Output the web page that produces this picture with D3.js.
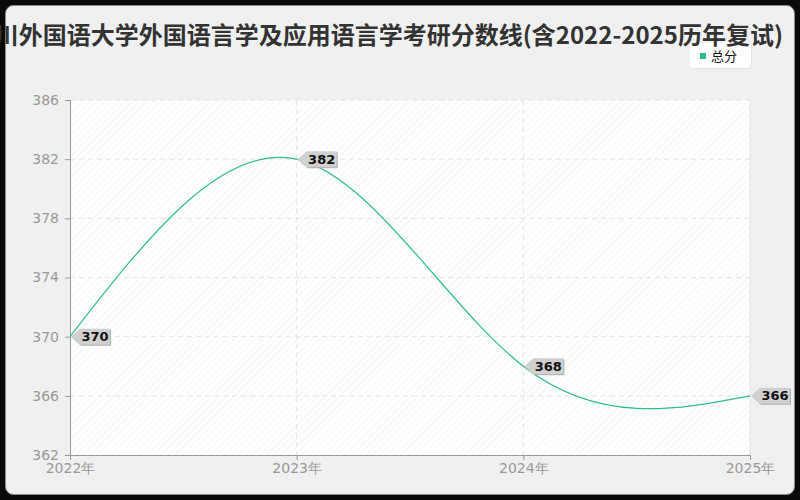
<!DOCTYPE html>
<html>
<head>
<meta charset="utf-8">
<script src="https://cdn.jsdelivr.net/npm/d3@7"></script>
<style>
  html, body { margin: 0; padding: 0; background: #000; }
  svg { display: block; }
</style>
</head>
<body>
<svg id="chart" width="800" height="500"></svg>
<script>
const titleText = "四川外国语大学外国语言学及应用语言学考研分数线(含2022-2025历年复试)";
const years = ["2022年", "2023年", "2024年", "2025年"];
const scores = [370, 382, 368, 366];
const yTicks = [362, 366, 370, 374, 378, 382, 386];
const seriesName = "总分";

const svg = d3.select("#chart");
const W = 800, H = 500;
const m = { l: 70, r: 750, t: 100, b: 455 };
const lineColor = "#2fbd8c";

// frame
svg.append("rect").attr("x", 0).attr("y", 0).attr("width", W).attr("height", H).attr("fill", "#0a0a0a");
svg.append("rect").attr("x", 5.5).attr("y", 5.5).attr("width", 789).attr("height", 489)
  .attr("rx", 8).attr("fill", "#f0f0f0").attr("stroke", "#8a8a8a").attr("stroke-width", 1);

// pattern
const defs = svg.append("defs");
const pat = defs.append("pattern").attr("id", "hatch").attr("patternUnits", "userSpaceOnUse")
  .attr("width", 5).attr("height", 5).attr("patternTransform", "rotate(45)");
pat.append("rect").attr("width", 5).attr("height", 5).attr("fill", "#ffffff");
pat.append("line").attr("x1", 0).attr("y1", 0).attr("x2", 0).attr("y2", 5)
  .attr("stroke", "#f1f1f1").attr("stroke-width", 1.5);

const x = d3.scalePoint().domain(years).range([m.l, m.r]).padding(0);
const y = d3.scaleLinear().domain([362, 386]).range([m.b, m.t]);

svg.append("rect").attr("x", m.l).attr("y", m.t).attr("width", m.r - m.l).attr("height", m.b - m.t)
  .attr("fill", "url(#hatch)");

// grid
const g = svg.append("g");
g.selectAll(".hg").data(yTicks.filter(v => v !== 362)).enter().append("line")
  .attr("x1", m.l).attr("x2", m.r).attr("y1", d => y(d)).attr("y2", d => y(d))
  .attr("stroke", "#e4e4e4").attr("stroke-dasharray", "5,4").attr("stroke-width", 1);
g.selectAll(".vg").data(years.slice(1)).enter().append("line")
  .attr("x1", d => x(d)).attr("x2", d => x(d)).attr("y1", m.t).attr("y2", m.b)
  .attr("stroke", "#e4e4e4").attr("stroke-dasharray", d => d === years[years.length - 1] ? null : "5,4").attr("stroke-width", 1);

// axes
const yAxis = d3.axisLeft(y).tickValues(yTicks).tickSize(5).tickPadding(6).tickFormat(d3.format("d"));
const yg = svg.append("g").attr("transform", `translate(${m.l},0)`).call(yAxis);
const xAxis = d3.axisBottom(x).tickSize(5).tickPadding(3);
const xg = svg.append("g").attr("transform", `translate(0,${m.b})`).call(xAxis);
[yg, xg].forEach(a => {
  a.select(".domain").attr("stroke", "#999").attr("stroke-width", 1);
  a.selectAll(".tick line").attr("stroke", "#999");
  a.selectAll(".tick text").attr("fill", "#999").attr("font-size", 14)
    .attr("font-family", "'DejaVu Sans', sans-serif");
});
xg.select(".domain").attr("d", `M${m.l},0.5H${m.r}`);
yg.select(".domain").attr("d", `M0.5,${m.t}V${m.b}`);

// line
const line = d3.line().x((d, i) => x(years[i])).y(d => y(d)).curve(d3.curveNatural);
svg.append("path").datum(scores).attr("d", line).attr("fill", "none")
  .attr("stroke", lineColor).attr("stroke-width", 1.2);

// labels
const lab = svg.append("g").selectAll("g").data(scores).enter().append("g")
  .attr("transform", (d, i) => `translate(${x(years[i])},${y(d)})`);
const tag = "M1,0 L10,-8 L40,-8 L40,8 L10,8 Z";
lab.append("path").attr("d", tag).attr("transform", "translate(1,1)").attr("fill", "#b0b0b0");
lab.append("path").attr("d", tag).attr("fill", "#d0d0d0");
lab.append("text").attr("x", 25).attr("y", 4.5).attr("text-anchor", "middle")
  .attr("font-family", "'DejaVu Sans', sans-serif").attr("font-weight", "bold")
  .attr("font-size", 13).attr("fill", "#111").text(d => d);

// legend
const lg = svg.append("g").attr("transform", "translate(690,43)");
lg.append("rect").attr("x", 1).attr("y", 1).attr("width", 61).attr("height", 25).attr("rx", 4).attr("fill", "#e2e2e2");
lg.append("rect").attr("width", 61).attr("height", 25).attr("rx", 4).attr("fill", "#ffffff");
lg.append("rect").attr("x", 10).attr("y", 10).attr("width", 6).attr("height", 6).attr("fill", lineColor);
lg.append("text").attr("x", 21).attr("y", 18).attr("font-size", 13)
  .attr("font-family", "'Noto Sans CJK SC', sans-serif").attr("fill", "#111").text(seriesName);

// title
svg.append("text").attr("x", 783).attr("y", 44).attr("text-anchor", "end")
  .attr("font-family", "'Noto Sans CJK SC', sans-serif").attr("font-weight", "bold")
  .attr("font-size", 24).attr("fill", "#333").text(titleText);
</script>
</body>
</html>
